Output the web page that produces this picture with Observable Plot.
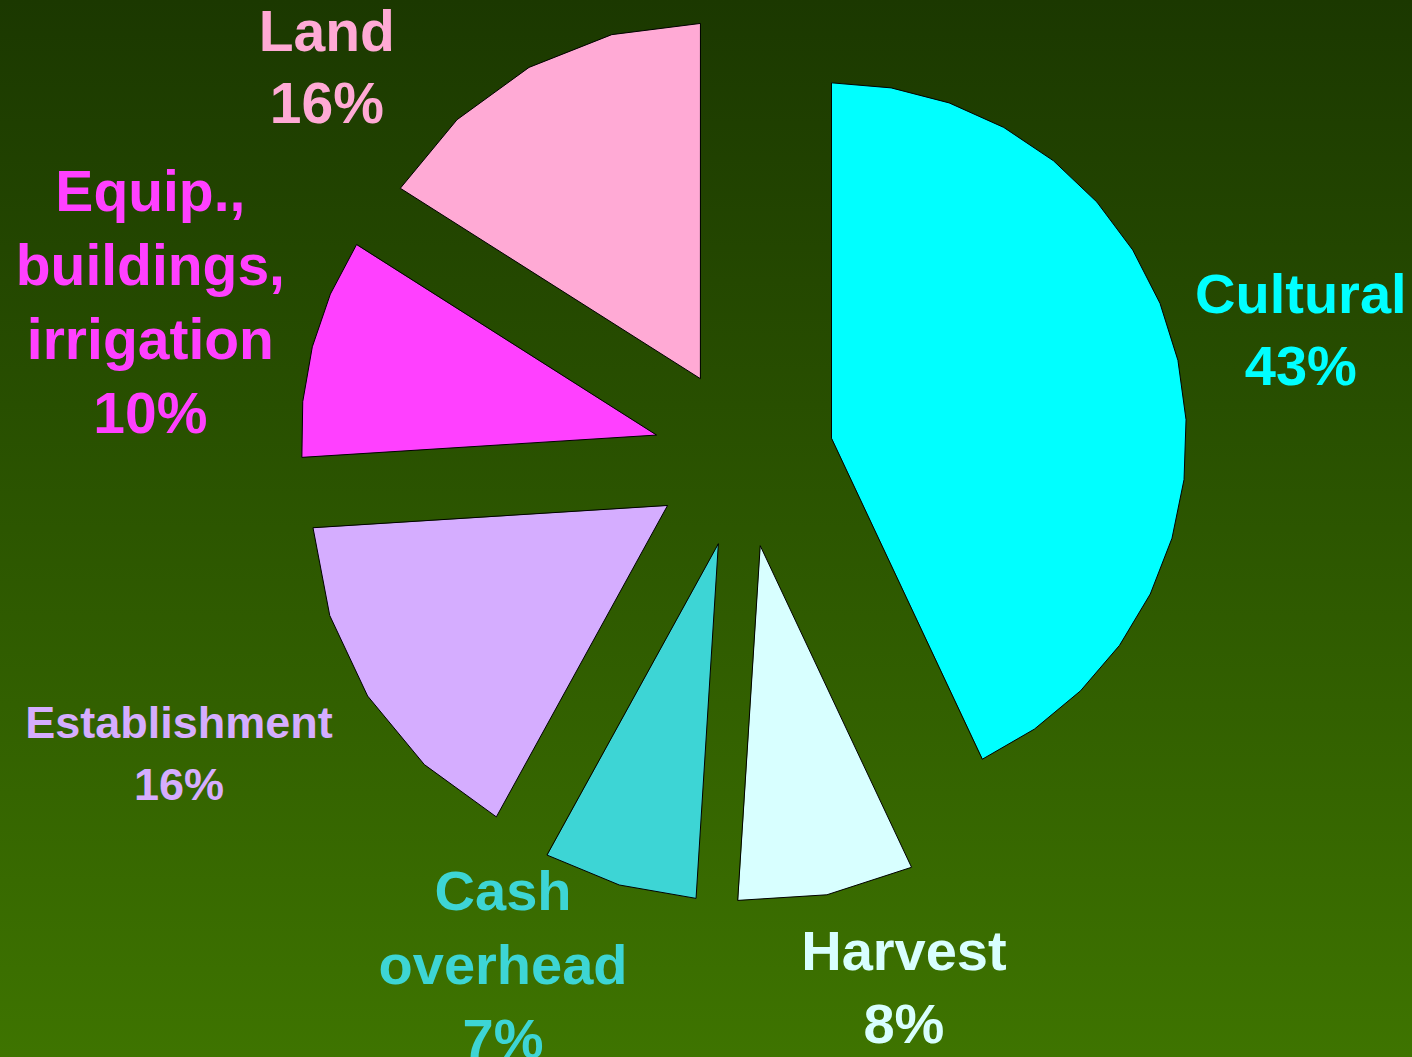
<!DOCTYPE html>
<html><head><meta charset="utf-8">
<script src="https://cdn.jsdelivr.net/npm/d3@7"></script>
<script src="https://cdn.jsdelivr.net/npm/@observablehq/plot@0.6"></script>
<style>
html,body{margin:0;padding:0;overflow:hidden;background:#2c5600}
#chart svg{display:block}
</style>
</head><body><div id="chart"></div>
<script>
// ---- data ----
const categories = ["Cultural", "Harvest", "Cash overhead", "Establishment", "Equip., buildings, irrigation", "Land"];
const labelLines = [["Cultural"], ["Harvest"], ["Cash", "overhead"], ["Establishment"], ["Equip.,", "buildings,", "irrigation"], ["Land"]];
const shares = [43, 8, 7, 16, 10, 16];
const sliceColors = ["#00ffff", "#d8ffff", "#3dd5d5", "#d5adff", "#ff40ff", "#ffaad5"];

// ---- layout (not data) ----
const W = 1412, H = 1057, CX = 743, CY = 457, RPX = 355;
const EXPLODE = 0.254, LABEL_R = 1.6;
const arcSegments = [16, 2, 2, 4, 4, 4];
const labelNudge = [[3, -8], [54, -32], [-82, -43], [-85, -13], [-43, -18], [-143, 104]];
const labelSize = [56, 56, 56, 45, 57, 57];
const labelLead = [1.3, 1.3, 1.32, 1.38, 1.3, 1.27];

const total = d3.sum(shares);
const polyRows = [];
const labelRows = [];
let acc = 0;
categories.forEach((cat, i) => {
  const a0 = acc / total * 2 * Math.PI;
  acc += shares[i];
  const a1 = acc / total * 2 * Math.PI;
  const mid = (a0 + a1) / 2;
  const ox = EXPLODE * Math.sin(mid), oy = EXPLODE * Math.cos(mid);
  polyRows.push({cat, color: sliceColors[i], x: ox, y: oy});
  const n = arcSegments[i];
  for (let k = 0; k <= n; k++) {
    const a = a0 + (a1 - a0) * k / n;
    polyRows.push({cat, color: sliceColors[i], x: ox + Math.sin(a), y: oy + Math.cos(a)});
  }
  labelRows.push({
    cat, color: sliceColors[i],
    x: LABEL_R * Math.sin(mid), y: LABEL_R * Math.cos(mid),
    text: [...labelLines[i], shares[i] + "%"].join("\n")
  });
});

const marks = [
  Plot.line(polyRows, {
    x: "x", y: "y", z: "cat", fill: "color",
    stroke: "#000", strokeWidth: 1, curve: "linear-closed"
  })
];
labelRows.forEach((d, i) => {
  marks.push(Plot.text([d], {
    x: "x", y: "y", text: "text",
    fill: d.color,
    fontSize: labelSize[i],
    fontWeight: "bold",
    fontFamily: "'Liberation Sans', Arial, Helvetica, sans-serif",
    lineHeight: labelLead[i],
    textAnchor: "middle",
    lineAnchor: "middle",
    dx: labelNudge[i][0], dy: labelNudge[i][1]
  }));
});

const chart = Plot.plot({
  width: W, height: H,
  margin: 0,
  x: {domain: [-CX / RPX, (W - CX) / RPX], range: [0, W], axis: null},
  y: {domain: [-(H - CY) / RPX, CY / RPX], range: [H, 0], axis: null},
  color: {type: "identity"},
  style: {background: "linear-gradient(to bottom, #1b3800 0%, #2c5600 50%, #3e7400 100%)", overflow: "visible"},
  marks
});
document.getElementById("chart").appendChild(chart);
</script>
</body></html>
